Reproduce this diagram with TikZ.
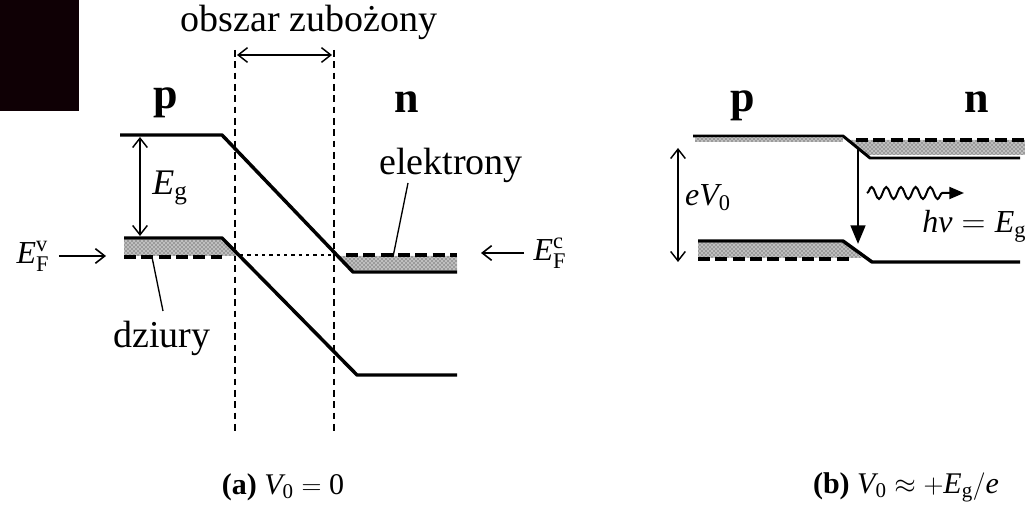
\documentclass[tikz,border=0pt]{standalone}
\usepackage{amsmath}
\usepackage{fontspec}
\setmainfont{Liberation Serif}
\usetikzlibrary{arrows.meta,patterns,decorations.pathmorphing}
\begin{document}
\begin{tikzpicture}[x=0.75pt,y=-0.75pt,
  band/.style={line width=2.6pt,line join=round},
  slimband/.style={line width=2.2pt,line join=round},
  stipple/.style={fill=gray!50,postaction={pattern=crosshatch dots,pattern color=black!85}},
  fermidash/.style={line width=2.6pt,dash pattern=on 9pt off 4pt},
  boundary/.style={line width=1.2pt,dash pattern=on 5pt off 3.5pt},
  thinarrow/.style={line width=1.2pt,-{Straight Barb[length=7pt,width=11pt]}},
  dblarrow/.style={line width=1.1pt,{Straight Barb[length=7pt,width=11pt]}-{Straight Barb[length=7pt,width=11pt]}},
  leader/.style={line width=1pt},
  lbl/.style={font=\fontsize{28.5}{30}\selectfont,inner sep=0pt},
  sidelbl/.style={font=\fontsize{33}{35}\selectfont\bfseries,inner sep=0pt},
  mathlbl/.style={font=\fontsize{24}{26}\selectfont,inner sep=0pt},
  caption/.style={font=\fontsize{22.5}{24}\selectfont,inner sep=0pt}
]
\useasboundingbox (0,0) rectangle (1025,509);
% dark corner patch
\fill[black!92!purple] (0,0) rectangle (79,111);

% ================= (a) =================
% depletion region boundaries
\coordinate (dl1) at (235,50);
\coordinate (dl2) at (235,433);
\coordinate (dr1) at (334,50);
\coordinate (dr2) at (334,433);
\draw[boundary] (dl1) -- (dl2);
\draw[boundary] (dr1) -- (dr2);
\coordinate (wa) at (237,55);
\coordinate (wb) at (332,55);
\draw[dblarrow] (wa) -- (wb);
\node[lbl] (obszar) at (309,22) {obszar zubożony};

% stippled regions
\path[stipple] (124,240) -- (224,240) -- (239,256) -- (124,256) -- cycle;
\path[stipple] (337,256) -- (457,256) -- (457,270) -- (352,270) -- cycle;
% fermi level marks
\draw[fermidash] (124,257) -- (222,257);
\draw[fermidash] (346,255) -- (457,255);
\draw[line width=2pt,dash pattern=on 2.5pt off 3pt] (240,255) -- (336,255);

% bands
\draw[band] (120,135) -- (222,135) -- (353,272) -- (457,272);
\draw[band] (124,238) -- (222,238) -- (357,375) -- (457,375);

% Eg arrow
\coordinate (ega) at (140,137);
\coordinate (egb) at (140,236);
\draw[dblarrow] (ega) -- (egb);
\node[mathlbl,font=\fontsize{27}{29}\selectfont] (eg) at (170,188) {$\textit{E}_{\text{g}}$};

% Fermi labels
\node[mathlbl] (efv) at (33,256) {$\textit{E}^{\text{v}}_{\text{F}}$};
\coordinate (efvend) at (106,256);
\draw[thinarrow] ([xshift=7pt]efv.east) -- (efvend);
\node[mathlbl] (efc) at (550,253) {$\textit{E}^{\text{c}}_{\text{F}}$};
\coordinate (efcend) at (481,253);
\draw[thinarrow] ([xshift=-7pt]efc.west) -- (efcend);

% p / n
\node[sidelbl] (pa) at (166,103) {p};
\node[sidelbl] (na) at (407,102) {n};

% carriers
\node[lbl] (elek) at (451,165) {elektrony};
\coordinate (elekend) at (393,257);
\draw[leader] (408,183) -- (elekend);
\node[lbl] (dziury) at (162,338) {dziury};
\coordinate (dzend) at (152,257);
\draw[leader] (163,311) -- (dzend);

\node[caption] (capa) at (283,487) {\textbf{(a)} $\textit{V}_{\text{0}} = \text{0}$};

% ================= (b) =================
\path[stipple] (695,138) rectangle (843,142);
\path[stipple] (848,140) -- (1025,140) -- (1025,155) -- (866,155) -- cycle;
\draw[fermidash] (856,140) -- (1025,140);
\path[stipple] (698,243) -- (845,243) -- (862,258) -- (698,258) -- cycle;
\draw[fermidash] (698,259) -- (850,259);

\draw[slimband] (693,136) -- (843,136) -- (870,158) -- (1020,158);
\draw[band] (698,241) -- (843,241) -- (872,262) -- (1020,262);

\coordinate (eva) at (678,148);
\coordinate (evb) at (678,262);
\draw[dblarrow] (eva) -- (evb);
\node[mathlbl] (ev0) at (708,198) {$\textit{eV}_{\text{0}}$};

\coordinate (reca) at (858,148);
\coordinate (recb) at (858,244);
\draw[line width=2pt,-{Triangle[length=14pt,width=11pt]}] (reca) -- (recb);

\coordinate (pha) at (867,193);
\coordinate (phb) at (964,193);
\draw[line width=1.5pt,decorate,decoration={snake,amplitude=4.5pt,segment length=11pt,post length=12pt},-{Triangle[length=11pt,width=9pt]}] (pha) -- (phb);
\node[mathlbl,anchor=west] (hv) at (922,226) {$\textit{hν} = \textit{E}_{\text{g}}$};

\node[sidelbl] (pb) at (743,106) {p};
\node[sidelbl] (nb) at (977,102) {n};

\node[caption] (capb) at (906,487) {\textbf{(b)} $\textit{V}_{\text{0}} \approx +\textit{E}_{\text{g}}/\textit{e}$};
\end{tikzpicture}
\end{document}
